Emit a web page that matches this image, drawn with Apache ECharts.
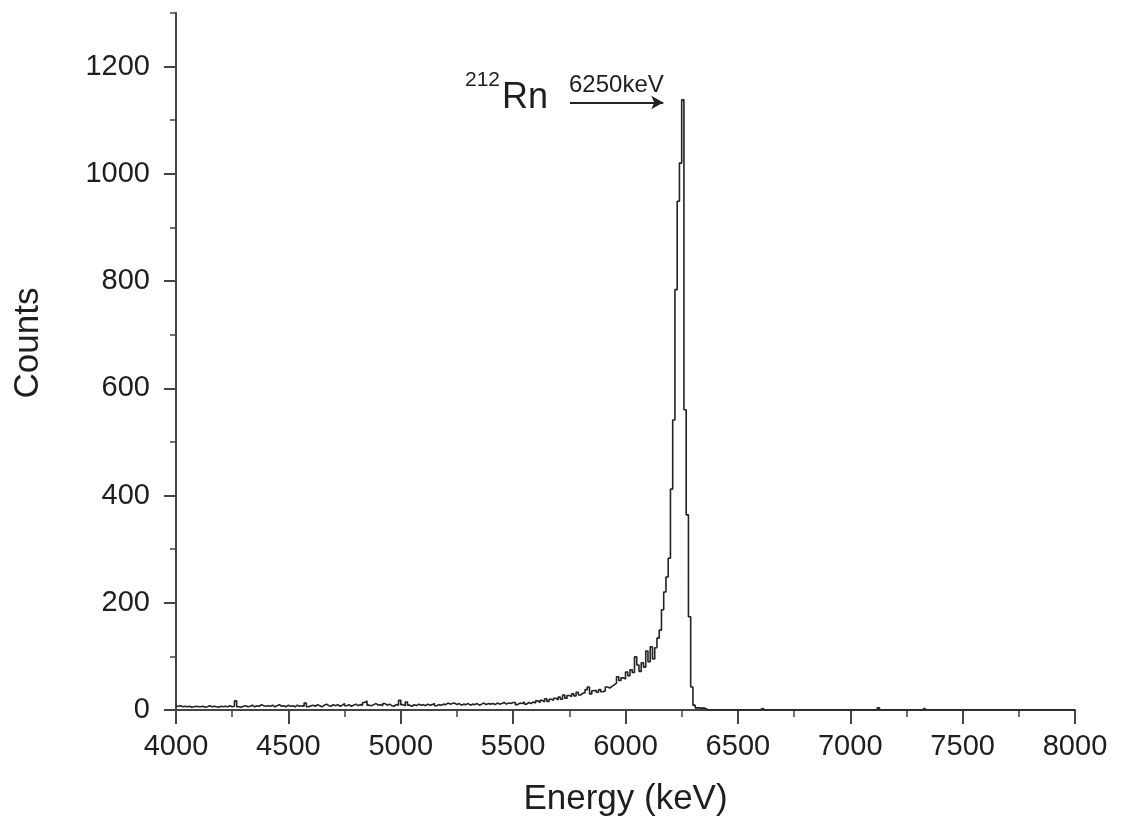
<!DOCTYPE html>
<html>
<head>
<meta charset="utf-8">
<script src="https://cdn.jsdelivr.net/npm/echarts@6/dist/echarts.min.js"></script>
<style>
  html, body { margin: 0; padding: 0; background: #fff; }
  #spectrumDiv { width: 1123px; height: 824px; }
</style>
</head>
<body>
<div id="spectrumDiv"></div>
<script>
// 10 keV bins, counts
var binWidth = 10;
var firstBin = 4000;
// 4000 - 4990 keV
var lowCounts = [
	7, 8, 6, 7, 6, 7, 5, 6, 7, 6,
	6, 7, 5, 6, 8, 6, 7, 6, 5, 7,
	6, 7, 6, 8, 6, 7, 17, 6, 5, 7,
	8, 6, 7, 9, 6, 8, 7, 10, 8, 7,
	8, 7, 9, 6, 8, 10, 7, 8, 6, 9,
	7, 8, 6, 9, 7, 8, 7, 13, 6, 8,
	9, 7, 10, 8, 6, 9, 11, 8, 7, 10,
	8, 10, 7, 9, 12, 8, 10, 7, 9, 11,
	8, 10, 9, 14, 17, 9, 8, 10, 12, 9,
	10, 8, 12, 9, 11, 8, 7, 10, 9, 18
];
// 5000 - 5990 keV
var midCounts = [
	10, 8, 15, 9, 7, 10, 8, 11, 9, 10,
	8, 11, 9, 10, 12, 8, 10, 9, 11, 10,
	13, 11, 12, 13, 10, 12, 9, 11, 10, 12,
	9, 11, 10, 12, 9, 11, 13, 10, 12, 11,
	12, 10, 13, 11, 12, 14, 11, 13, 12, 14,
	14, 10, 13, 12, 15, 11, 14, 12, 15, 13,
	17, 14, 18, 15, 21, 16, 20, 18, 22, 19,
	24, 20, 28, 22, 27, 25, 30, 26, 33, 28,
	31, 32, 38, 43, 30, 36, 37, 33, 38, 34,
	36, 43, 41, 44, 47, 50, 62, 55, 60, 58
];
// 6000 - 6350 keV
var peakCounts = [
	71, 64, 75, 70, 99, 84, 72, 88, 80, 110,
	90, 118, 95, 116, 134, 149, 187, 220, 248, 283,
	412, 541, 784, 949, 1020, 1138, 560, 364, 174, 43,
	9, 4, 4, 3, 4, 2
];
// a few lone counts above the peak
var blipEnergies = [6600, 7120, 7320];
var blipCounts = [3, 4, 3];

var xMin = 4000, xMax = 8000;
var yMax = 1300;
var yLabelValues = [0, 200, 400, 600, 800, 1000, 1200];

var fontName = "'Liberation Sans', Arial, sans-serif";

function buildSpectrum() {
	var measured = lowCounts.concat(midCounts, peakCounts);
	var nBins = (xMax - firstBin) / binWidth;
	var points = [];
	for (var i = 0; i < nBins; i++) {
		var e = firstBin + i * binWidth;
		var c = i < measured.length ? measured[i] : 0;
		var k = blipEnergies.indexOf(e);
		if (k >= 0) c = blipCounts[k];
		points.push([e, c]);
	}
	points.push([xMax, 0]);
	return points;
}

var chart = echarts.init(document.getElementById('spectrumDiv'));

var option = {
	backgroundColor: '#fff',
	animation: false,
	grid: { left: 176, right: 48, top: 13, bottom: 114 },
	xAxis: {
		type: 'value',
		min: xMin,
		max: xMax,
		interval: 500,
		name: 'Energy (keV)',
		nameLocation: 'middle',
		nameGap: 72,
		nameTextStyle: { fontFamily: fontName, fontSize: 35, color: '#1e1e1e' },
		axisLine: { show: true, onZero: false, lineStyle: { color: '#444', width: 2 } },
		axisTick: { show: true, length: 14, lineStyle: { color: '#444', width: 2 } },
		minorTick: { show: true, splitNumber: 2, length: 7, lineStyle: { color: '#444', width: 1.5 } },
		axisLabel: {
			margin: 22,
			fontFamily: fontName,
			fontSize: 29,
			color: '#1e1e1e',
			formatter: function (v) { return String(v); }
		},
		splitLine: { show: false }
	},
	yAxis: [{
		type: 'value',
		min: 0,
		max: yMax,
		interval: 100,
		axisLine: { show: true, lineStyle: { color: '#444', width: 2 } },
		axisTick: { show: true, length: 6, lineStyle: { color: '#444', width: 1.5 } },
		axisLabel: {
			margin: 26,
			fontFamily: fontName,
			fontSize: 29,
			color: '#1e1e1e',
			formatter: function (v) { return yLabelValues.indexOf(v) >= 0 ? String(v) : ''; }
		},
		splitLine: { show: false }
	}, {
		type: 'value',
		position: 'left',
		min: 0,
		max: yMax,
		interval: 200,
		axisLine: { show: false },
		axisTick: { show: true, length: 12, customValues: yLabelValues, lineStyle: { color: '#444', width: 2 } },
		axisLabel: { show: false },
		splitLine: { show: false }
	}],
	graphic: [
		{
			type: 'text', x: 28, y: 343, rotation: Math.PI / 2,
			style: { text: 'Counts', font: '35px ' + fontName, fill: '#1e1e1e', align: 'center', verticalAlign: 'middle' }
		},
		{
			type: 'text', x: 465, y: 80,
			style: { text: '212', font: '21px ' + fontName, fill: '#1e1e1e', align: 'left', verticalAlign: 'middle' }
		},
		{
			type: 'text', x: 502, y: 98,
			style: { text: 'Rn', font: '36px ' + fontName, fill: '#1e1e1e', align: 'left', verticalAlign: 'middle' }
		},
		{
			type: 'text', x: 569, y: 85,
			style: { text: '6250keV', font: '24px ' + fontName, fill: '#1e1e1e', align: 'left', verticalAlign: 'middle' }
		}
	],
	series: [{
		type: 'line',
		step: 'end',
		showSymbol: false,
		data: buildSpectrum(),
		lineStyle: { color: '#222', width: 1.6 },
		markLine: {
			silent: true,
			symbol: ['none', 'arrow'],
			symbolSize: [10, 12],
			label: { show: false },
			lineStyle: { color: '#222', width: 2, type: 'solid' },
			data: [[{ coord: [5753, 1133] }, { coord: [6168, 1133] }]]
		}
	}]
};

chart.setOption(option);
</script>
</body>
</html>
